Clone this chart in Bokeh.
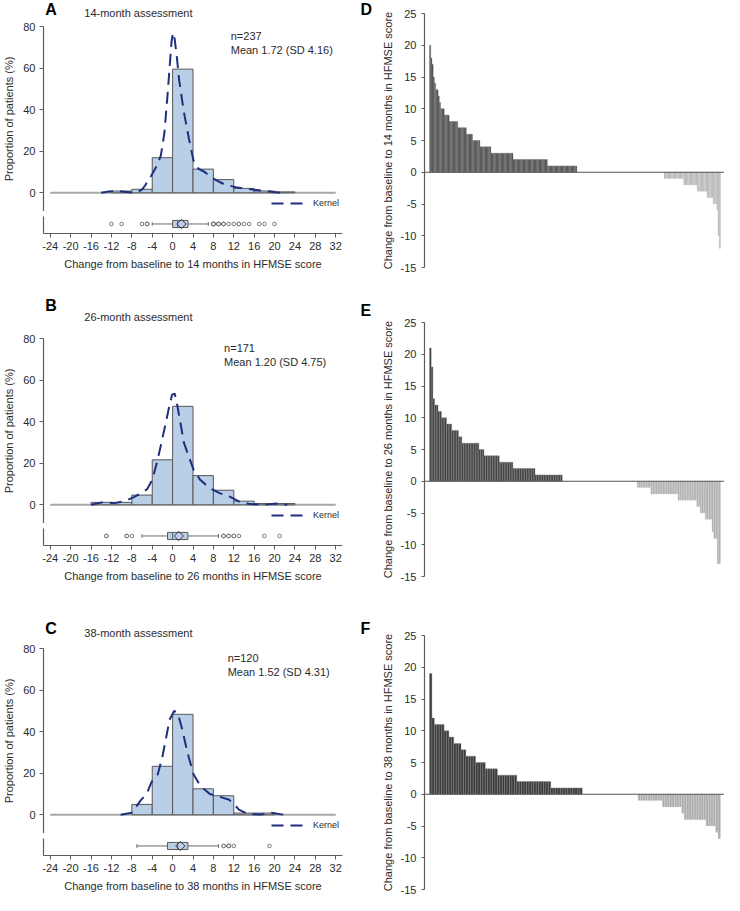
import numpy as np
from bokeh.plotting import figure
from bokeh.models import Range1d, Label, Span, Legend, LegendItem, FixedTicker
from bokeh.layouts import column, row
from bokeh.embed import file_html
from bokeh.resources import INLINE

# ------------------------------------------------------------------ data
X_TICKS = [-24, -20, -16, -12, -8, -4, 0, 4, 8, 12, 16, 20, 24, 28, 32]
HIST_Y_TICKS = [0, 20, 40, 60, 80]
WF_Y_TICKS = [-15, -10, -5, 0, 5, 10, 15, 20, 25]

# change values (levels) and number of patients at each level, read from the waterfalls
A_levels = [20, 18, 17, 15, 14, 13, 12, 11, 10, 9, 8, 7, 6, 5, 4, 3, 2, 1, 0,
            -1, -2, -3, -4, -5, -6, -10, -12]
A_counts = [1, 1, 1, 1, 1, 2, 1, 1, 3, 4, 7, 7, 5, 6, 9, 18, 28, 24, 71,
            16, 11, 8, 5, 3, 1, 1, 1]

B_levels = [21, 18, 13, 12, 11, 10, 9, 8, 7, 6, 5, 4, 3, 2, 1, 0,
            -1, -2, -3, -4, -5, -6, -8, -9, -13]
B_counts = [1, 1, 1, 2, 2, 3, 3, 4, 2, 10, 3, 9, 8, 13, 16, 44,
            8, 16, 11, 2, 3, 4, 1, 2, 2]

C_levels = [19, 12, 11, 10, 9, 8, 7, 6, 5, 4, 3, 2, 1, 0,
            -1, -2, -3, -4, -5, -6, -7]
C_counts = [1, 1, 4, 2, 2, 3, 2, 4, 4, 5, 8, 14, 13, 23,
            10, 8, 1, 9, 4, 1, 1]

# kernel density curves (% scale)
A_kernel_x = [-14, -12.5, -11, -9.5, -8, -7, -6, -5.4, -4.5, -4, -3, -2.3, -1.6, -1, -0.6,
              -0.2, 0.1, 0.4, 0.8, 1.3, 2.2, 3.2, 4.1, 5.1, 6.3, 7.3, 8.6, 10.2, 12.4, 13.7,
              15.6, 17.5, 19.4, 21.3]
A_kernel_y = [0, 0.6, 0.9, 0.5, 0.1, 0.2, 1.5, 3.5, 7, 9, 13.5, 18, 29, 47, 60,
              73, 77, 74, 66, 54, 39, 26, 15.5, 11.5, 10, 8, 6, 4, 2.7, 2.2,
              1.6, 1.1, 0.5, 0]

B_kernel_x = [-16, -14.5, -13.5, -12.5, -11.4, -10, -9, -7.5, -6.5, -5, -4, -3, -2, -1.2,
              -0.6, -0.1, 0.4, 0.9, 1.5, 2.2, 3.2, 4.1, 5.4, 7.3, 9.2, 11.1, 13, 14.9,
              16.8, 18.7, 20.3, 21.5, 22.5]
B_kernel_y = [0, 0.8, 1.3, 1.0, 0.8, 1.5, 2.2, 3.8, 5.2, 7.5, 12, 21, 32, 41,
              48, 53, 53.5, 48, 40, 30, 23, 17, 12, 8, 5.6, 4, 1.6, 0.5,
              0.1, 0.2, 0.6, 0.3, 0]

C_kernel_x = [-10.2, -8, -6.3, -5, -4.1, -2.9, -2, -1.2, -0.6, 0.3, 1, 1.9, 2.9, 4.1,
              5.4, 7.3, 9.2, 11.1, 12.1, 13, 14.9, 17.5, 19.4, 21.3, 22]
C_kernel_y = [0, 1, 6.8, 10.5, 16, 19.5, 28, 38, 45.7, 50, 49, 41, 30, 19.5,
              14, 10, 8.7, 7.2, 5, 2.5, 0.3, 0.2, 1, 0.2, 0]

LEFT_LETTERS = ["A", "B", "C"]
RIGHT_LETTERS = ["D", "E", "F"]
SUBTITLES = ["14-month assessment", "26-month assessment", "38-month assessment"]
N_TEXT = ["n=237", "n=171", "n=120"]
MEAN_TEXT = ["Mean 1.72 (SD 4.16)", "Mean 1.20 (SD 4.75)", "Mean 1.52 (SD 4.31)"]
SCORE_TITLES = ["Change from baseline to 14 months in HFMSE score",
                "Change from baseline to 26 months in HFMSE score",
                "Change from baseline to 38 months in HFMSE score"]
HIST_Y_TITLE = "Proportion of patients (%)"
LEGEND_TEXT = "Kernel"

# ------------------------------------------------------------------ style / layout
FONT = "Liberation Sans"
TXT = "#2b2b2b"
AX = "#5c5c5c"
BLUE = "#b9cfe8"
KERNEL = "#1d2f7d"

# left column
L_W, L_BL, L_BR = 352, 40, 10
L_FW = L_W - L_BL - L_BR
H_TOP, H_FH = 7, 185
B_TOP, B_FH, B_BOT = 5, 17, 40
HEADER_H = [19, 58, 56]
LETTER_FROM_TOP = [8.5, 32, 43]       # centre of panel letter, px below header top
SUB_FROM_TOP = [12, 43, 47]           # centre of sub-title, px below header top
LETTER_X, SUB_X = 2, 48
X_LO, X_HI = -25.33, 33.33
Y_LO, Y_HI = -9, 80
N_X = [11.4, 10.1, 10.8]

# right column
STRIP_W = 24
R_W, R_BL, R_BR = 348, 48, 0
BAR_SPAN, BAR_PAD_L, BAR_PAD_R = 291, 5, 4
WF_FH = 254
WF_TOPS = [13, 50, 53]
WF_BOTS = [5, 6, 6]
RIGHT_LETTER_Y = [8.5, 310, 628]      # px below top of right column
RIGHT_LETTER_X = 8
COL_H = 895

BOX_Y, BOX_H, CAP_H = 0.56, 0.42, 0.22


def tick_text(ticks):
    return {t: str(t) for t in ticks}


def style_axis(ax):
    ax.axis_line_color = AX
    ax.axis_line_width = 1.2
    ax.major_tick_line_color = AX
    ax.major_tick_out = 4
    ax.major_tick_in = 0
    ax.minor_tick_line_color = None
    ax.major_label_text_font = FONT
    ax.major_label_text_font_size = "11px"
    ax.major_label_text_color = TXT
    ax.major_label_standoff = 4
    ax.axis_label_text_font = FONT
    ax.axis_label_text_font_size = "11px"
    ax.axis_label_text_font_style = "normal"
    ax.axis_label_text_color = TXT
    ax.axis_label_standoff = 5


def base_fig(**kw):
    p = figure(output_backend="svg", toolbar_location=None, tools="", **kw)
    p.outline_line_color = None
    p.grid.visible = False
    p.background_fill_color = "white"
    return p


def text(p, x, y, s, size="11px", bold=False, color=TXT):
    p.add_layout(Label(x=x, y=y, text=s, text_font=FONT, text_font_size=size,
                       text_font_style="bold" if bold else "normal",
                       text_color=color, text_align="left", text_baseline="middle"))


def blank_fig(w, h):
    return base_fig(width=w, height=h, x_range=Range1d(0, w), y_range=Range1d(0, h),
                    x_axis_location=None, y_axis_location=None,
                    min_border_left=0, min_border_right=0, min_border_top=0,
                    min_border_bottom=0)


def header_panel(i):
    h = HEADER_H[i]
    p = blank_fig(L_W, h)
    text(p, LETTER_X, h - LETTER_FROM_TOP[i], LEFT_LETTERS[i], size="16px", bold=True,
         color="black")
    text(p, SUB_X, h - SUB_FROM_TOP[i], SUBTITLES[i])
    return p


def hist_panel(i, vals, kx, ky, xr):
    ppy = H_FH / (Y_HI - Y_LO)
    ppx = L_FW / (X_HI - X_LO)
    p = base_fig(width=L_W, height=H_TOP + H_FH, x_range=xr,
                 y_range=Range1d(Y_LO, Y_HI), x_axis_location=None,
                 min_border_left=L_BL, min_border_right=L_BR,
                 min_border_top=H_TOP, min_border_bottom=0)
    ax = p.yaxis[0]
    ax.ticker = FixedTicker(ticks=HIST_Y_TICKS)
    style_axis(ax)
    ax.axis_label = HIST_Y_TITLE
    p.line([X_TICKS[0], X_TICKS[-1]], [0, 0], line_color="#a8a8a8", line_width=2)
    edges = np.array(X_TICKS, dtype=float)
    counts, _ = np.histogram(vals, bins=edges)
    pct = counts / len(vals) * 100.0
    m = counts > 0
    p.quad(left=edges[:-1][m], right=edges[1:][m], bottom=0, top=pct[m],
           fill_color=BLUE, line_color="#575757", line_width=1)
    kr = p.line(kx, ky, line_color=KERNEL, line_width=2, line_dash="12 7")
    leg = Legend(items=[LegendItem(label=LEGEND_TEXT, renderers=[kr])],
                 location=(int(round((19 - X_LO) * ppx)), 3),
                 background_fill_alpha=0, border_line_color=None,
                 label_text_font=FONT, label_text_font_size="9px", label_text_color=TXT,
                 glyph_width=36, glyph_height=10, label_height=10,
                 padding=0, margin=0, spacing=0, label_standoff=6)
    p.add_layout(leg)
    text(p, N_X[i], Y_HI - 9 / ppy, N_TEXT[i])
    text(p, N_X[i], Y_HI - 23 / ppy, MEAN_TEXT[i])
    return p


def box_panel(i, vals, xr):
    p = base_fig(width=L_W, height=B_TOP + B_FH + B_BOT, x_range=xr,
                 y_range=Range1d(0, 1),
                 min_border_left=L_BL, min_border_right=L_BR,
                 min_border_top=B_TOP, min_border_bottom=B_BOT)
    p.xaxis.ticker = FixedTicker(ticks=X_TICKS)
    p.xaxis.major_label_overrides = tick_text(X_TICKS)
    p.xaxis.axis_label = SCORE_TITLES[i]
    style_axis(p.xaxis[0])
    p.yaxis.ticker = FixedTicker(ticks=[])
    style_axis(p.yaxis[0])
    q1, med, q3 = np.percentile(vals, [25, 50, 75])
    iqr = q3 - q1
    lo_f, hi_f = q1 - 1.5 * iqr, q3 + 1.5 * iqr
    inside = vals[(vals >= lo_f) & (vals <= hi_f)]
    wl, wh = inside.min(), inside.max()
    outl = vals[(vals < lo_f) | (vals > hi_f)]
    mean = vals.mean()
    wc = "#6a6a6a"
    p.segment(x0=[wl, q3], y0=[BOX_Y, BOX_Y], x1=[q1, wh], y1=[BOX_Y, BOX_Y],
              line_color=wc, line_width=1)
    p.segment(x0=[wl, wh], y0=[BOX_Y - CAP_H / 2] * 2, x1=[wl, wh], y1=[BOX_Y + CAP_H / 2] * 2,
              line_color=wc, line_width=1)
    p.quad(left=[q1], right=[q3], bottom=[BOX_Y - BOX_H / 2], top=[BOX_Y + BOX_H / 2],
           fill_color=BLUE, line_color="#5a5a5a", line_width=1)
    p.segment(x0=[med], y0=[BOX_Y - BOX_H / 2], x1=[med], y1=[BOX_Y + BOX_H / 2],
              line_color="#5a5a5a", line_width=1)
    p.scatter([mean], [BOX_Y], marker="square", angle=np.pi / 4, size=6.5,
              fill_alpha=0, line_color="#3a3a3a", line_width=1)
    p.scatter(outl, [BOX_Y] * len(outl), marker="circle", size=3.6,
              fill_color="white", line_color="#5a5a5a", line_width=0.8)
    return p


def wf_panel(i, levels, counts):
    vals = np.repeat(np.array(levels, dtype=float), counts)
    n = len(vals)
    ppx = BAR_SPAN / n
    x_lo = -0.5 - BAR_PAD_L / ppx
    x_hi = n - 0.5 + BAR_PAD_R / ppx
    p = base_fig(width=R_W, height=WF_TOPS[i] + WF_FH + WF_BOTS[i],
                 x_range=Range1d(x_lo, x_hi),
                 y_range=Range1d(WF_Y_TICKS[0], WF_Y_TICKS[-1]),
                 x_axis_location=None,
                 min_border_left=R_BL, min_border_right=R_BR,
                 min_border_top=WF_TOPS[i], min_border_bottom=WF_BOTS[i])
    ax = p.yaxis[0]
    ax.ticker = FixedTicker(ticks=WF_Y_TICKS)
    ax.major_label_overrides = tick_text(WF_Y_TICKS)
    style_axis(ax)
    ax.major_tick_out = 3
    ax.major_label_standoff = 5
    ax.axis_label_standoff = 4
    ax.axis_label = SCORE_TITLES[i]
    idx = np.arange(n)
    pos = vals > 0
    neg = vals < 0
    p.vbar(x=idx[pos], top=vals[pos], bottom=0, width=1,
           fill_color="#3b3b3b", line_color="#8e8e8e", line_width=0.4)
    p.vbar(x=idx[neg], top=vals[neg], bottom=0, width=1,
           fill_color="#acacac", line_color="#d8d8d8", line_width=0.4)
    p.add_layout(Span(location=0, dimension="width", line_color="#555555", line_width=1.2))
    return p


def letter_strip():
    p = blank_fig(STRIP_W, COL_H)
    for k in range(3):
        text(p, RIGHT_LETTER_X, COL_H - RIGHT_LETTER_Y[k], RIGHT_LETTERS[k],
             size="16px", bold=True, color="black")
    return p


levels_all = [A_levels, B_levels, C_levels]
counts_all = [A_counts, B_counts, C_counts]
kx_all = [A_kernel_x, B_kernel_x, C_kernel_x]
ky_all = [A_kernel_y, B_kernel_y, C_kernel_y]

left_children = []
right_children = []
for i in range(3):
    vals = np.repeat(np.array(levels_all[i], dtype=float), counts_all[i])
    xr = Range1d(X_LO, X_HI)
    left_children.append(header_panel(i))
    left_children.append(hist_panel(i, vals, kx_all[i], ky_all[i], xr))
    left_children.append(box_panel(i, vals, xr))
    right_children.append(wf_panel(i, levels_all[i], counts_all[i]))

layout = row(column(*left_children, spacing=0),
             letter_strip(),
             column(*right_children, spacing=0), spacing=0)

open("out.html", "w").write(file_html(layout, INLINE, title="HFMSE change"))
